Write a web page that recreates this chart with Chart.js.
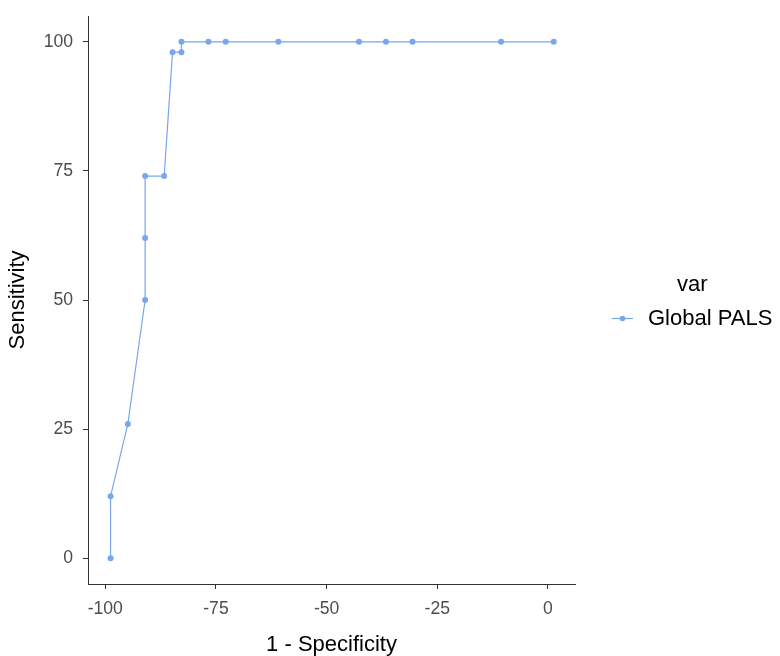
<!DOCTYPE html>
<html>
<head>
<meta charset="utf-8">
<script src="https://cdn.jsdelivr.net/npm/chart.js@4.4.1/dist/chart.umd.min.js"></script>
<style>
  html, body { margin: 0; padding: 0; background: #fff; }
  #wrap { width: 780px; height: 656px; position: relative; }
</style>
</head>
<body>
<div id="wrap"><canvas id="c" width="780" height="656"></canvas></div>
<script>
const seriesName = "Global PALS";
const legendTitle = "var";
const xTitle = "1 - Specificity";
const yTitle = "Sensitivity";
const specX = [-98.8, -98.8, -94.9, -91.0, -91.0, -91.0, -86.7, -84.8, -82.8, -82.8, -76.7, -72.8, -60.9, -42.7, -36.6, -30.6, -10.6, 1.3];
const sensY = [0, 12, 26, 50, 62, 74, 74, 98, 98, 100, 100, 100, 100, 100, 100, 100, 100, 100];
const xTicks = [-100, -75, -50, -25, 0];
const yTicks = [0, 25, 50, 75, 100];

const lineColor = '#7AA6EC';
const points = specX.map((x, i) => ({ x: x, y: sensY[i] }));

const legendPlugin = {
  id: 'customLegend',
  afterDraw(chart) {
    const ctx = chart.ctx;
    ctx.save();
    ctx.fillStyle = '#000';
    ctx.font = '22px "Liberation Sans", Arial, sans-serif';
    ctx.textBaseline = 'middle';
    ctx.textAlign = 'left';
    ctx.fillText(legendTitle, 677, 285);
    ctx.strokeStyle = lineColor;
    ctx.lineWidth = 1.2;
    ctx.beginPath();
    ctx.moveTo(612, 318.5);
    ctx.lineTo(633, 318.5);
    ctx.stroke();
    ctx.fillStyle = lineColor;
    ctx.beginPath();
    ctx.arc(622.5, 318.5, 2.8, 0, Math.PI * 2);
    ctx.fill();
    ctx.fillStyle = '#000';
    ctx.fillText(seriesName, 648, 319);
    ctx.restore();
  }
};

function zeroPad(scale) {
  scale.paddingTop = 0; scale.paddingBottom = 0;
  scale.paddingLeft = 0; scale.paddingRight = 0;
}

new Chart(document.getElementById('c'), {
  type: 'line',
  data: {
    datasets: [{
      label: seriesName,
      data: points,
      borderColor: lineColor,
      backgroundColor: lineColor,
      borderWidth: 1.2,
      pointRadius: 3,
      pointBorderWidth: 0,
      pointHoverRadius: 3,
      tension: 0,
      fill: false,
      clip: false
    }]
  },
  options: {
    responsive: false,
    animation: false,
    layout: { padding: { left: 0, right: 205, top: 16, bottom: 0 } },
    plugins: { legend: { display: false }, tooltip: { enabled: false } },
    scales: {
      x: {
        type: 'linear',
        min: -103.9,
        max: 6.1,
        afterBuildTicks(scale) { scale.ticks = xTicks.map(v => ({ value: v })); },
        afterFit(scale) { scale.height = 72; zeroPad(scale); },
        grid: { display: true, drawOnChartArea: false, drawTicks: true, tickLength: 5, color: '#333333', lineWidth: 1 },
        border: { display: true, color: '#333333', width: 1 },
        ticks: { color: '#4D4D4D', font: { size: 17.6, family: '"Liberation Sans", Arial, sans-serif' }, padding: 10, maxRotation: 0 },
        title: { display: true, text: xTitle, color: '#000', font: { size: 22, family: '"Liberation Sans", Arial, sans-serif' }, padding: { top: 0, bottom: -2 } }
      },
      y: {
        type: 'linear',
        min: -5,
        max: 105,
        afterBuildTicks(scale) { scale.ticks = yTicks.map(v => ({ value: v })); },
        afterFit(scale) { scale.width = 88; zeroPad(scale); },
        grid: { display: true, drawOnChartArea: false, drawTicks: true, tickLength: 5, color: '#333333', lineWidth: 1 },
        border: { display: true, color: '#333333', width: 1 },
        ticks: { color: '#4D4D4D', font: { size: 17.6, family: '"Liberation Sans", Arial, sans-serif' }, padding: 10 },
        title: { display: true, text: yTitle, color: '#000', font: { size: 22, family: '"Liberation Sans", Arial, sans-serif' }, padding: { top: 5, bottom: 0 } }
      }
    }
  },
  plugins: [legendPlugin]
});
</script>
</body>
</html>
